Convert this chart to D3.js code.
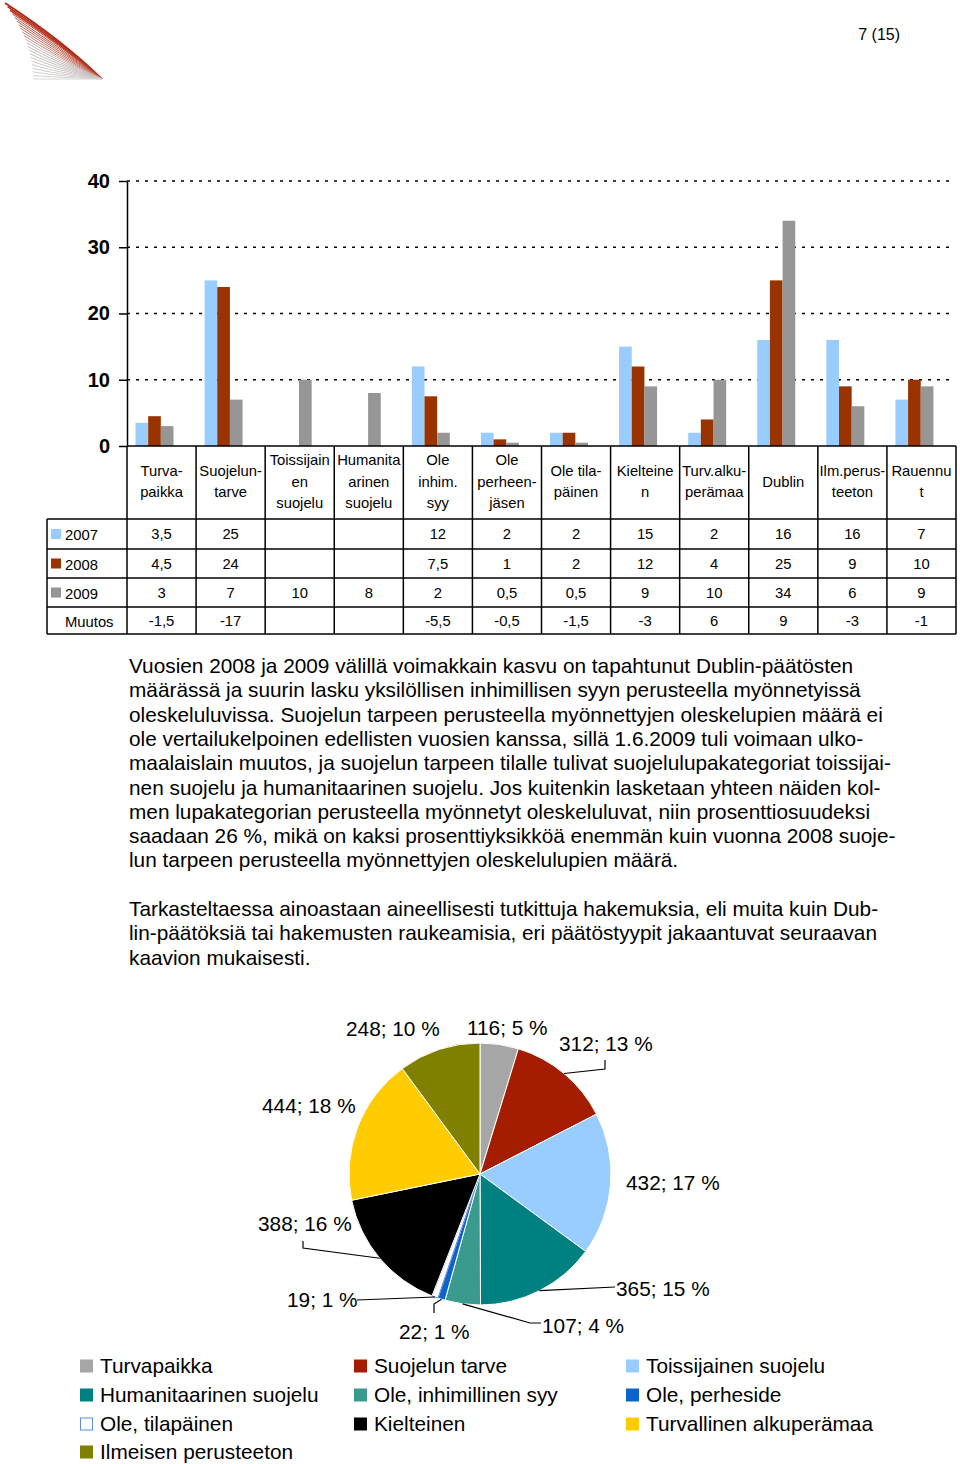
<!DOCTYPE html>
<html>
<head>
<meta charset="utf-8">
<script src="https://cdn.jsdelivr.net/npm/d3@7"></script>
<style>
  body { margin: 0; background: #fff; }
  svg { display: block; font-family: "Liberation Sans", Arial, sans-serif; }
</style>
</head>
<body>
<div id="page"></div>
<script>
// Bar chart data (decisions, per cent)
let categories = ["Turvapaikka", "Suojelun tarve", "Toissijainen suojelu", "Humanitaarinen suojelu",
    "Ole inhim. syy", "Ole perheenjäsen", "Ole tilapäinen", "Kielteinen",
    "Turv.alkuperämaa", "Dublin", "Ilm.perusteeton", "Rauennut"];
let headerLines = [["Turva-", "paikka"], ["Suojelun-", "tarve"], ["Toissijain", "en", "suojelu"],
    ["Humanita", "arinen", "suojelu"], ["Ole", "inhim.", "syy"], ["Ole", "perheen-", "jäsen"],
    ["Ole tila-", "päinen"], ["Kielteine", "n"], ["Turv.alku-", "perämaa"], ["Dublin"],
    ["Ilm.perus-", "teeton"], ["Rauennu", "t"]];
let years = ["2007", "2008", "2009"];
let values2007 = [3.5, 25, null, null, 12, 2, 2, 15, 2, 16, 16, 7];
let values2008 = [4.5, 24, null, null, 7.5, 1, 2, 12, 4, 25, 9, 10];
let values2009 = [3, 7, 10, 8, 2, 0.5, 0.5, 9, 10, 34, 6, 9];
let muutos = [-1.5, -17, null, null, -5.5, -0.5, -1.5, -3, 6, 9, -3, -1];
let yTicks = [0, 10, 20, 30, 40];

// Pie chart data
let pieNames = ["Turvapaikka", "Suojelun tarve", "Toissijainen suojelu", "Humanitaarinen suojelu",
    "Ole, inhimillinen syy", "Ole, perheside", "Ole, tilapäinen", "Kielteinen",
    "Turvallinen alkuperämaa", "Ilmeisen perusteeton"];
let pieValues = [116, 312, 432, 365, 107, 22, 19, 388, 444, 248];
let piePercents = [5, 13, 17, 15, 4, 1, 1, 16, 18, 10];

// Text
let para1 = [
    "Vuosien 2008 ja 2009 välillä voimakkain kasvu on tapahtunut Dublin-päätösten",
    "määrässä ja suurin lasku yksilöllisen inhimillisen syyn perusteella myönnetyissä",
    "oleskeluluvissa. Suojelun tarpeen perusteella myönnettyjen oleskelupien määrä ei",
    "ole vertailukelpoinen edellisten vuosien kanssa, sillä 1.6.2009 tuli voimaan ulko-",
    "maalaislain muutos, ja suojelun tarpeen tilalle tulivat suojelulupakategoriat toissijai-",
    "nen suojelu ja humanitaarinen suojelu. Jos kuitenkin lasketaan yhteen näiden kol-",
    "men lupakategorian perusteella myönnetyt oleskeluluvat, niin prosenttiosuudeksi",
    "saadaan 26 %, mikä on kaksi prosenttiyksikköä enemmän kuin vuonna 2008 suoje-",
    "lun tarpeen perusteella myönnettyjen oleskelulupien määrä."
];
let para2 = [
    "Tarkasteltaessa ainoastaan aineellisesti tutkittuja hakemuksia, eli muita kuin Dub-",
    "lin-päätöksiä tai hakemusten raukeamisia, eri päätöstyypit jakaantuvat seuraavan",
    "kaavion mukaisesti."
];

let barColors = {"2007": "#99ccff", "2008": "#993300", "2009": "#969696"};
let pieColors = ["#a6a6a6", "#a51d00", "#99ccff", "#008080", "#3a9a8e",
    "#0a64cc", "#ffffff", "#000000", "#ffcc00", "#808000"];

let svgWidth = 960, svgHeight = 1464;
let svg = d3.select("#page").append("svg")
    .attr("width", svgWidth)
    .attr("height", svgHeight);

// Logo (decorative wing)
let logo = svg.append("g");
let nLines = 22;
d3.range(nLines).forEach(i => {
    let t = i / (nLines - 1);
    let ax = 5 + 28 * (1 - (1 - t) * (1 - t)), ay = 3 + 76 * t;
    let cx = 62 - 12 * t, cy = 40 + 39 * t;
    let col = t < 0.45 ? d3.interpolateRgb("#b3210c", "#c9958a")(t / 0.45)
                       : d3.interpolateRgb("#c4b4b0", "#d6d6d6")((t - 0.45) / 0.55);
    logo.append("path")
        .attr("d", `M${ax},${ay} Q${cx},${cy} 102,79`)
        .attr("fill", "none")
        .attr("stroke", col)
        .attr("stroke-width", i < 3 ? 1.6 : 1);
});

svg.append("text")
    .attr("x", 900).attr("y", 40)
    .attr("text-anchor", "end")
    .style("font-size", "16px")
    .text("7 (15)");

// Bar chart
let plotLeft = 127, plotRight = 956, yZero = 446, yTop = 181;
let xScale = d3.scaleBand().domain(categories).range([plotLeft, plotRight]);
let xInner = d3.scaleBand().domain(years).range([8.5, 46.5]);
let yScale = d3.scaleLinear().domain([0, 40]).range([yZero, yTop]);

let chartGrp = svg.append("g");

chartGrp.selectAll(".grid")
    .data(yTicks.filter(d => d > 0))
    .enter().append("line")
    .attr("x1", plotLeft).attr("x2", plotRight - 1)
    .attr("y1", d => yScale(d)).attr("y2", d => yScale(d))
    .attr("stroke", "#000")
    .attr("stroke-width", 1.5)
    .attr("stroke-dasharray", "3,6");

let series = [values2007, values2008, values2009];
years.forEach((yr, si) => {
    chartGrp.selectAll(".bar" + yr)
        .data(series[si].map((v, i) => ({cat: categories[i], v: v})).filter(d => d.v !== null))
        .enter().append("rect")
        .attr("x", d => xScale(d.cat) + xInner(yr))
        .attr("y", d => yScale(d.v))
        .attr("width", xInner.bandwidth())
        .attr("height", d => yZero - yScale(d.v))
        .attr("fill", barColors[yr]);
});

let yAxis = d3.axisLeft(yScale).tickValues(yTicks).tickSize(8).tickSizeOuter(0).tickPadding(9);
let yAxisG = chartGrp.append("g")
    .attr("transform", `translate(${plotLeft},0)`)
    .call(yAxis);
yAxisG.select(".domain").attr("stroke-width", 1.5);
yAxisG.selectAll(".tick line").attr("stroke-width", 1.5);
yAxisG.selectAll(".tick text")
    .style("font-family", "'Liberation Sans', Arial, sans-serif")
    .style("font-size", "20px")
    .style("font-weight", "bold")
    .attr("fill", "#000");

// Data table below the axis
let tableLeft = 47;
let rowEdges = [446, 519, 549, 578, 607, 634];
let tbl = svg.append("g").attr("stroke", "#000").attr("stroke-width", 1.5);
// horizontal lines
tbl.append("line").attr("x1", plotLeft).attr("x2", plotRight).attr("y1", rowEdges[0]).attr("y2", rowEdges[0]);
rowEdges.slice(1).forEach(y => {
    tbl.append("line").attr("x1", tableLeft).attr("x2", plotRight).attr("y1", y).attr("y2", y);
});
// vertical lines
categories.forEach(c => {
    tbl.append("line").attr("x1", xScale(c)).attr("x2", xScale(c)).attr("y1", rowEdges[0]).attr("y2", rowEdges[5]);
});
tbl.append("line").attr("x1", plotRight).attr("x2", plotRight).attr("y1", rowEdges[0]).attr("y2", rowEdges[5]);
tbl.append("line").attr("x1", tableLeft).attr("x2", tableLeft).attr("y1", rowEdges[1]).attr("y2", rowEdges[5]);

// header labels
let lineGap = 21.5, headerMid = 481.5;
headerLines.forEach((lines, i) => {
    let cx = xScale(categories[i]) + xScale.bandwidth() / 2;
    lines.forEach((ln, j) => {
        svg.append("text")
            .attr("x", cx)
            .attr("y", headerMid + (j - (lines.length - 1) / 2) * lineGap + 5)
            .attr("text-anchor", "middle")
            .style("font-size", "14.8px")
            .text(ln);
    });
});

let fmt = v => v === null ? "" : String(v).replace(".", ",");
let tableRows = [values2007, values2008, values2009, muutos];
let rowLabels = ["2007", "2008", "2009", "Muutos"];
tableRows.forEach((row, r) => {
    let cy = (rowEdges[r + 1] + rowEdges[r + 2]) / 2;
    if (r < 3) {
        svg.append("rect")
            .attr("x", 51).attr("y", cy - 5)
            .attr("width", 10).attr("height", 10)
            .attr("fill", barColors[years[r]]);
    }
    svg.append("text")
        .attr("x", 65).attr("y", cy + 6)
        .style("font-size", "14.8px")
        .text(rowLabels[r]);
    row.forEach((v, i) => {
        svg.append("text")
            .attr("x", xScale(categories[i]) + xScale.bandwidth() / 2)
            .attr("y", cy + 5)
            .attr("text-anchor", "middle")
            .style("font-size", "14.8px")
            .text(fmt(v));
    });
});

// Paragraphs
let lineH = 24.3;
para1.forEach((ln, i) => {
    svg.append("text").attr("x", 129).attr("y", 673 + i * lineH)
        .style("font-size", "20.8px").text(ln);
});
para2.forEach((ln, i) => {
    svg.append("text").attr("x", 129).attr("y", 916 + i * lineH)
        .style("font-size", "20.8px").text(ln);
});

// Pie chart
let pieCx = 480, pieCy = 1174, pieR = 131;
let pie = d3.pie().sort(null).value(d => d);
let arcs = pie(pieValues);
let arc = d3.arc().innerRadius(0).outerRadius(pieR);
let pieGrp = svg.append("g").attr("transform", `translate(${pieCx},${pieCy})`);
pieGrp.selectAll("path")
    .data(arcs)
    .enter().append("path")
    .attr("d", arc)
    .attr("fill", (d, i) => pieColors[i])
    .attr("stroke", (d, i) => i === 6 ? "#3366cc" : "#fff")
    .attr("stroke-width", (d, i) => i === 6 ? 0.8 : 1);

// label placement: left x, middle y; elbow points for leader lines
let labelPos = [
    {x: 467, y: 1028}, {x: 559, y: 1044, lead: [[605, 1069], [605, 1060]]},
    {x: 626, y: 1183}, {x: 616, y: 1289, lead: [[615, 1287]]},
    {x: 542, y: 1326, lead: [[530, 1323], [541, 1323]]},
    {x: 399, y: 1332, lead: [[434, 1304], [434, 1313]]},
    {x: 287, y: 1300, lead: [[357, 1300]]},
    {x: 258, y: 1224, lead: [[303, 1248], [303, 1241]]},
    {x: 262, y: 1106}, {x: 346, y: 1029}
];
arcs.forEach((a, i) => {
    let lp = labelPos[i];
    if (lp.lead) {
        let mid = (a.startAngle + a.endAngle) / 2;
        let p0 = [pieCx + pieR * Math.sin(mid), pieCy - pieR * Math.cos(mid)];
        svg.append("path")
            .attr("d", d3.line()([p0].concat(lp.lead)))
            .attr("fill", "none")
            .attr("stroke", "#000")
            .attr("stroke-width", 1.2);
    }
    svg.append("text")
        .attr("x", lp.x).attr("y", lp.y + 7)
        .style("font-size", "20.8px")
        .text(`${pieValues[i]}; ${piePercents[i]} %`);
});

// Legend
let legCols = [80, 354, 626], legRows = [1366, 1395, 1424, 1452];
pieNames.forEach((name, i) => {
    let lx = legCols[i % 3], ly = legRows[Math.floor(i / 3)];
    svg.append("rect")
        .attr("x", i === 6 ? lx + 0.5 : lx).attr("y", ly - 6.5 + (i === 6 ? 0.5 : 0))
        .attr("width", i === 6 ? 12 : 13).attr("height", i === 6 ? 12 : 13)
        .attr("fill", pieColors[i])
        .attr("stroke", i === 6 ? "#5b8fd6" : "none")
        .attr("stroke-width", 1);
    svg.append("text")
        .attr("x", lx + 20).attr("y", ly + 7)
        .style("font-size", "20.8px")
        .text(name);
});
</script>
</body>
</html>
